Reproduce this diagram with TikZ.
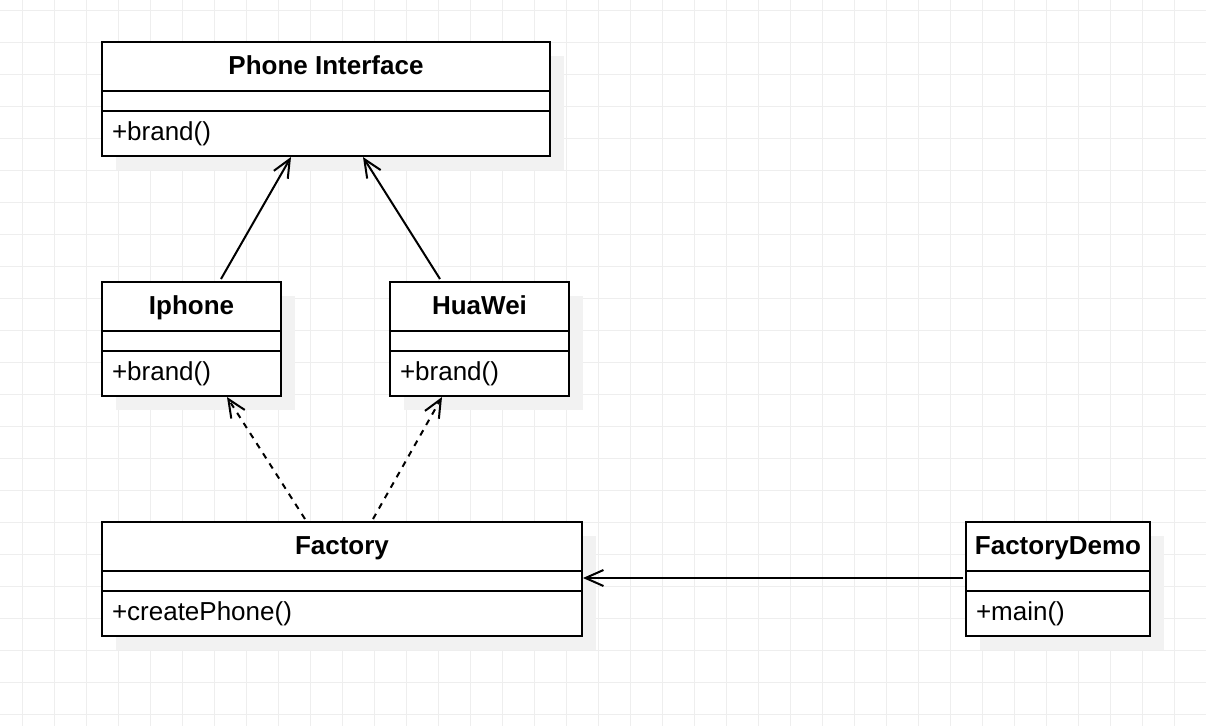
\documentclass[tikz,border=0pt]{standalone}
\usepackage{fontspec}
\setmainfont{Liberation Sans}
\usetikzlibrary{arrows.meta,calc,shadows}

\definecolor{gridgray}{RGB}{238,238,238}
\definecolor{shadowgray}{RGB}{242,242,242}

\tikzset{every picture/.style={line width=1.5pt}}
\tikzset{
  classbox/.style={draw, fill=white, rectangle, inner sep=0pt, minimum height=85.5pt,
    drop shadow={shadow xshift=10.5pt, shadow yshift=-10.5pt, fill=shadowgray, opacity=1}},
  classname/.style={anchor=base, inner sep=0.75pt, font=\fontsize{19.5}{23}\selectfont\bfseries},
  member/.style={anchor=base west, inner sep=0.75pt, font=\fontsize{19.5}{23}\selectfont},
  gridline/.style={draw=gridgray, line width=0.75pt},
  realize/.style={-{Straight Barb[length=13.5pt,width=12pt]}},
  depend/.style={realize, dash pattern=on 4.5pt off 4.5pt}
}

\begin{document}
\begin{tikzpicture}[x=0.75pt,y=0.75pt,yscale=-1,xscale=1]
\useasboundingbox (0,0) rectangle (1206,726);

% Grid
\foreach \x in {22,54,...,1206} \draw[gridline] (\x,0) -- (\x,726);
\foreach \y in {10,42,...,714} \draw[gridline] (0,\y) -- (1206,\y);

%Shape: Class [Phone Interface]
\node[classbox, minimum width=336pt] (phone) at (326,99) {};
\draw ($(phone.north west)+(0,50)$) -- ($(phone.north east)+(0,50)$);
\draw ($(phone.north west)+(0,70)$) -- ($(phone.north east)+(0,70)$);
%Shape: Class [Iphone]
\node[classbox, minimum width=134.25pt] (iphone) at (191.5,339) {};
\draw ($(iphone.north west)+(0,50)$) -- ($(iphone.north east)+(0,50)$);
\draw ($(iphone.north west)+(0,70)$) -- ($(iphone.north east)+(0,70)$);
%Shape: Class [HuaWei]
\node[classbox, minimum width=134.25pt] (huawei) at (479.5,339) {};
\draw ($(huawei.north west)+(0,50)$) -- ($(huawei.north east)+(0,50)$);
\draw ($(huawei.north west)+(0,70)$) -- ($(huawei.north east)+(0,70)$);
%Shape: Class [Factory]
\node[classbox, minimum width=360pt] (factory) at (342,579) {};
\draw ($(factory.north west)+(0,50)$) -- ($(factory.north east)+(0,50)$);
\draw ($(factory.north west)+(0,70)$) -- ($(factory.north east)+(0,70)$);
%Shape: Class [FactoryDemo]
\node[classbox, minimum width=138pt] (demo) at (1058,579) {};
\draw ($(demo.north west)+(0,50)$) -- ($(demo.north east)+(0,50)$);
\draw ($(demo.north west)+(0,70)$) -- ($(demo.north east)+(0,70)$);

% Text Node
\node[classname] (phoneT) at ($(phone.north)+(0,33)$) {Phone Interface};
\node[member] (phoneM) at ($(phone.north west)+(9,99)$) {+brand()};
% Text Node
\node[classname] (iphoneT) at ($(iphone.north)+(0,33)$) {Iphone};
\node[member] (iphoneM) at ($(iphone.north west)+(9,99)$) {+brand()};
% Text Node
\node[classname] (huaweiT) at ($(huawei.north)+(0,33)$) {HuaWei};
\node[member] (huaweiM) at ($(huawei.north west)+(9,99)$) {+brand()};
% Text Node
\node[classname] (factoryT) at ($(factory.north)+(0,33)$) {Factory};
\node[member] (factoryM) at ($(factory.north west)+(9,99)$) {+createPhone()};
% Text Node
\node[classname] (demoT) at ($(demo.north)+(0,33)$) {FactoryDemo};
\node[member] (demoM) at ($(demo.north west)+(9,99)$) {+main()};

% Connectors
\draw[realize] ($(iphone.north west)+(120,-2)$) -- ($(phone.south west)+(190,0)$);
\draw[realize] ($(huawei.north west)+(51,-2)$) -- ($(phone.south west)+(262,0)$);
\draw[depend] ($(factory.north west)+(204,-2)$) -- ($(iphone.south west)+(126,0)$);
\draw[depend] ($(factory.north west)+(272,-2)$) -- ($(huawei.south west)+(53,0)$);
\draw[realize] ($(demo.west)+(-2,-1)$) -- ($(factory.east)+(0,-1)$);

\end{tikzpicture}
\end{document}
